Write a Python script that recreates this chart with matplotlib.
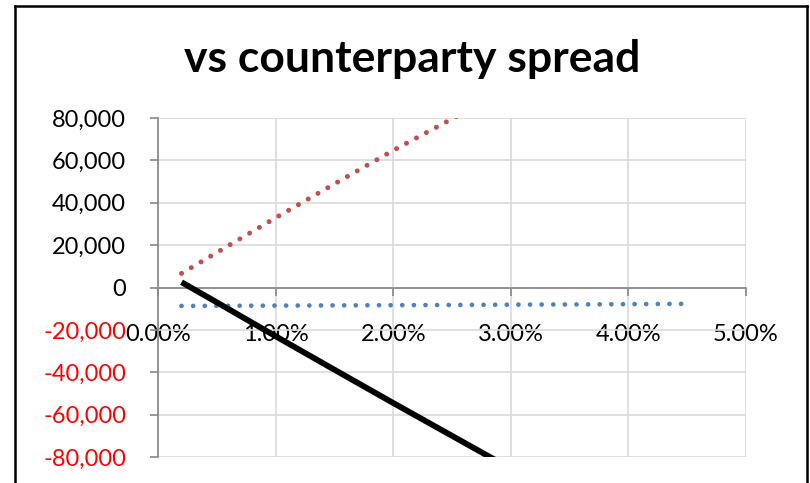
import matplotlib
matplotlib.use("Agg")
import matplotlib.pyplot as plt
from matplotlib.ticker import FuncFormatter
from matplotlib.lines import Line2D

# ---- data ----
spread = [0.2, 0.5, 1.0, 1.5, 2.0, 2.5, 3.0, 3.5, 4.0, 4.5]          # %
series_blue = [-8700, -8650, -8550, -8450, -8350, -8250, -8100, -8000, -7850, -7700]
series_red = [6650, 16500, 32900, 48900, 64700, 79600, 94500, 109000, 123000, 136500]
series_black = [2500, -7000, -23000, -38800, -54500, -70000, -85500, -101000, -116000, -131000]
title = "vs counterparty spread"
x_ticks = [0, 1, 2, 3, 4, 5]
y_ticks = [-80000, -60000, -40000, -20000, 0, 20000, 40000, 60000, 80000]

W, H = 810, 483
fig = plt.figure(figsize=(W / 100, H / 100), dpi=100)
fig.patch.set_facecolor("white")

FONT = "Lato"
GRID = "#d9d9d9"
AXC = "#868686"

ax = fig.add_axes([158 / W, 1 - 457 / H, (746 - 158) / W, (457 - 118) / H])
ax.set_xlim(0, 5)
ax.set_ylim(-80000, 80000)

ax.plot(spread, series_blue, color="#4F81BD", lw=3.4, linestyle=(0, (0.01, 2.45)),
        dash_capstyle="round", zorder=3)
ax.plot(spread, series_red, color="#C0504D", lw=3.6, linestyle=(0, (0.01, 2.25)),
        dash_capstyle="round", zorder=3)
ax.plot(spread, series_black, color="black", lw=4.2, solid_capstyle="butt", zorder=4)

ax.set_xticks(x_ticks)
ax.set_yticks(y_ticks)
ax.xaxis.set_major_formatter(FuncFormatter(lambda v, p: f"{v:.2f}%"))
ax.yaxis.set_major_formatter(FuncFormatter(lambda v, p: f"{int(v):,}"))

ax.grid(True, color=GRID, lw=1.2, zorder=0)
ax.set_axisbelow(True)

for s in ["top", "right"]:
    ax.spines[s].set_visible(False)
ax.spines["bottom"].set_position(("data", 0))
ax.spines["bottom"].set_color(AXC)
ax.spines["left"].set_color(AXC)
ax.spines["bottom"].set_linewidth(1.2)
ax.spines["left"].set_linewidth(1.2)

ax.tick_params(axis="x", direction="out", length=6, width=1.2, color=AXC, pad=20,
               labelsize=17, labelcolor="black")
ax.tick_params(axis="y", direction="out", length=6, width=1.2, color=AXC, pad=17,
               labelsize=17)
for lab in ax.get_xticklabels() + ax.get_yticklabels():
    lab.set_fontfamily(FONT)
for v, lab in zip(y_ticks, ax.get_yticklabels()):
    lab.set_color("#FF0000" if v < 0 else "black")

fig.text(412 / W, 1 - 72 / H, title, ha="center", va="baseline",
         fontsize=32, fontweight="bold", family=FONT)

# chart outer border (bottom cut off)
lw_b = 1.8
fig.add_artist(Line2D([14.5 / W, 14.5 / W], [0, 1 - 5.5 / H], color="black", lw=lw_b,
                      transform=fig.transFigure))
fig.add_artist(Line2D([807 / W, 807 / W], [0, 1 - 5.5 / H], color="black", lw=lw_b,
                      transform=fig.transFigure))
fig.add_artist(Line2D([14.5 / W, 807 / W], [1 - 5.5 / H, 1 - 5.5 / H], color="black",
                      lw=lw_b, transform=fig.transFigure, solid_capstyle="projecting"))

fig.savefig("out.png", dpi=100, facecolor="white")
